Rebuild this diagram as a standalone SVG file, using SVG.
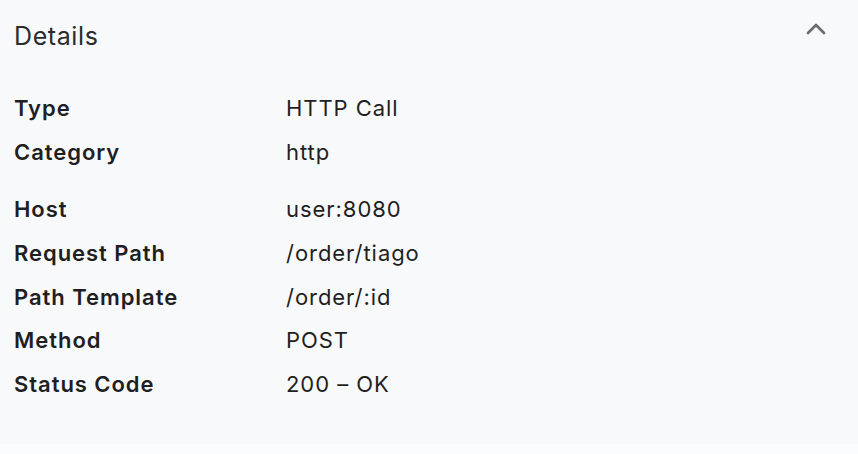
<svg xmlns="http://www.w3.org/2000/svg" width="858" height="454" viewBox="0 0 858 454">
<style>
.lbl{font-family:Inter,"Noto Sans","Liberation Sans",sans-serif;font-size:22px;font-weight:600;fill:#1f1f22;letter-spacing:0.95px}
.val{font-family:Inter,"Noto Sans","Liberation Sans",sans-serif;font-size:22px;font-weight:400;fill:#1f1f22;letter-spacing:0.95px}
.ttl{font-family:Inter,"Noto Sans","Liberation Sans",sans-serif;font-size:25px;font-weight:400;fill:#2a2b2e;letter-spacing:0.6px}
</style>
<rect x="0" y="0" width="858" height="454" fill="#f8f9fb"/>
<rect x="0" y="444" width="858" height="10" fill="#fbfcfd"/>
<g id="header">
<text class="ttl" x="14" y="45">Details</text>
<polyline points="808,33 816,25 824,33" fill="none" stroke="#6b6b6e" stroke-width="2.6" stroke-linecap="round" stroke-linejoin="round"/>
</g>
<g id="row-type"><text class="lbl" x="14" y="116">Type</text><text class="val" x="286" y="116">HTTP Call</text></g>
<g id="row-category"><text class="lbl" x="14" y="160">Category</text><text class="val" x="286" y="160">http</text></g>
<g id="row-host"><text class="lbl" x="14" y="217">Host</text><text class="val" x="286" y="217">user:8080</text></g>
<g id="row-request-path"><text class="lbl" x="14" y="261">Request Path</text><text class="val" x="286" y="261">/order/tiago</text></g>
<g id="row-path-template"><text class="lbl" x="14" y="305">Path Template</text><text class="val" x="286" y="305">/order/:id</text></g>
<g id="row-method"><text class="lbl" x="14" y="348">Method</text><text class="val" x="286" y="348">POST</text></g>
<g id="row-status"><text class="lbl" x="14" y="392">Status Code</text><text class="val" x="286" y="392">200 – OK</text></g>
</svg>
